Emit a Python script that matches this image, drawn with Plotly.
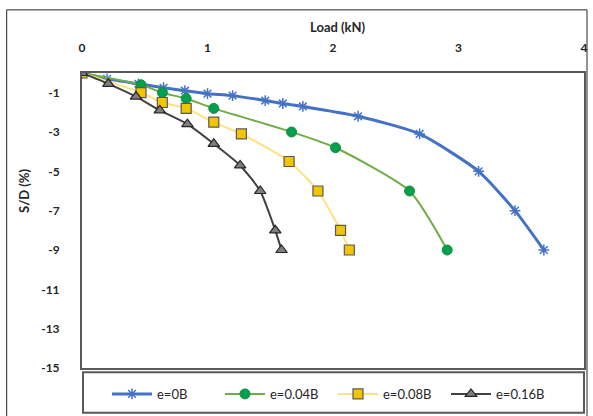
import plotly.graph_objects as go

# Load-settlement data for four load eccentricities
load_e0 = [0, 0.2, 0.45, 0.65, 0.82, 1.0, 1.2, 1.46, 1.6, 1.76, 2.2, 2.69, 3.16, 3.45, 3.68]
sd_e0 = [0, -0.3, -0.55, -0.75, -0.9, -1.05, -1.15, -1.4, -1.55, -1.7, -2.2, -3.1, -5.0, -7.0, -9.0]

load_e004 = [0, 0.47, 0.64, 0.83, 1.05, 1.67, 2.02, 2.61, 2.91]
sd_e004 = [0, -0.6, -1.0, -1.3, -1.8, -3.0, -3.8, -6.0, -9.0]

load_e008 = [0, 0.47, 0.64, 0.83, 1.05, 1.27, 1.65, 1.88, 2.06, 2.13]
sd_e008 = [0, -1.0, -1.5, -1.8, -2.5, -3.1, -4.5, -6.0, -8.0, -9.0]

load_e016 = [0, 0.21, 0.43, 0.62, 0.84, 1.05, 1.26, 1.42, 1.54, 1.59]
sd_e016 = [0, -0.55, -1.2, -1.9, -2.6, -3.6, -4.7, -6.0, -8.0, -9.0]

x_ticks = [0, 1, 2, 3, 4]
y_ticks = [-15, -13, -11, -9, -7, -5, -3, -1]

FONT = "Lato"

fig = go.Figure()

fig.add_trace(go.Scatter(
    x=load_e0, y=sd_e0, name="e=0B", mode="lines+markers",
    line=dict(color="#4472C4", width=3, shape="spline", smoothing=0.6),
    marker=dict(symbol="asterisk-open", size=9, line=dict(color="#4472C4", width=1.5)),
))
fig.add_trace(go.Scatter(
    x=load_e004, y=sd_e004, name="e=0.04B", mode="lines+markers",
    line=dict(color="#70AD47", width=2, shape="spline", smoothing=0.6),
    marker=dict(symbol="circle", size=10, color="#00A050", line=dict(color="#1E8C3A", width=1)),
))
fig.add_trace(go.Scatter(
    x=load_e008, y=sd_e008, name="e=0.08B", mode="lines+markers",
    line=dict(color="#FFE083", width=2, shape="spline", smoothing=0.6),
    marker=dict(symbol="square", size=10, color="#F2C500", line=dict(color="#595959", width=1.2)),
))
fig.add_trace(go.Scatter(
    x=load_e016, y=sd_e016, name="e=0.16B", mode="lines+markers",
    line=dict(color="#404040", width=2, shape="spline", smoothing=0.6),
    marker=dict(symbol="triangle-up", size=10, color="#7F7F7F", line=dict(color="#262626", width=1.2)),
))

axis_font = dict(family=FONT, size=12, color="#262626")

fig.update_layout(
    width=593, height=416,
    margin=dict(l=82, r=5, t=73, b=48),
    paper_bgcolor="white", plot_bgcolor="white",
    font=dict(family=FONT, size=12, color="#262626"),
    xaxis=dict(
        range=[0, 4], side="top", tickvals=x_ticks,
        ticktext=[f"<b>{v}</b>" for v in x_ticks],
        tickfont=axis_font, ticklabelstandoff=14,
        showgrid=False, zeroline=False,
        showline=True, linecolor="#595959", linewidth=2, mirror=True,
    ),
    yaxis=dict(
        range=[-15, 0], tickvals=y_ticks,
        ticktext=[f"<b>{v}</b>" for v in y_ticks],
        tickfont=axis_font, ticklabelstandoff=18,
        showgrid=False, zeroline=False,
        showline=True, linecolor="#595959", linewidth=2, mirror=True,
    ),
    showlegend=True,
    legend=dict(
        orientation="h", x=0.5, xanchor="center", y=-0.088, yanchor="middle",
        font=dict(family=FONT, size=13, color="#262626"),
        bgcolor="rgba(0,0,0,0)", itemwidth=40, tracegroupgap=0,
        entrywidth=58, entrywidthmode="pixels",
    ),
    annotations=[
        dict(text="<b>Load (kN)</b>", xref="paper", yref="paper",
             x=0.51, y=1.0, yshift=46, yanchor="middle", xanchor="center",
             showarrow=False,
             font=dict(family=FONT, size=13, color="#262626")),
        dict(text="<b>S/D (%)</b>", xref="paper", yref="paper",
             x=0, xshift=-58, xanchor="center", y=0.6, yanchor="middle",
             textangle=-90, showarrow=False,
             font=dict(family=FONT, size=13, color="#262626")),
    ],
    shapes=[
        # legend frame below the plot area
        dict(type="rect", xref="paper", yref="paper",
             x0=0.002, x1=1.0, y0=-0.152, y1=-0.014,
             line=dict(color="#595959", width=2)),
        # outer chart border
        dict(type="rect", xref="paper", yref="paper",
             x0=-0.15, x1=1.006, y0=-0.165, y1=1.214,
             line=dict(color="#262626", width=1)),
    ],
)

fig.write_html("out.html")
